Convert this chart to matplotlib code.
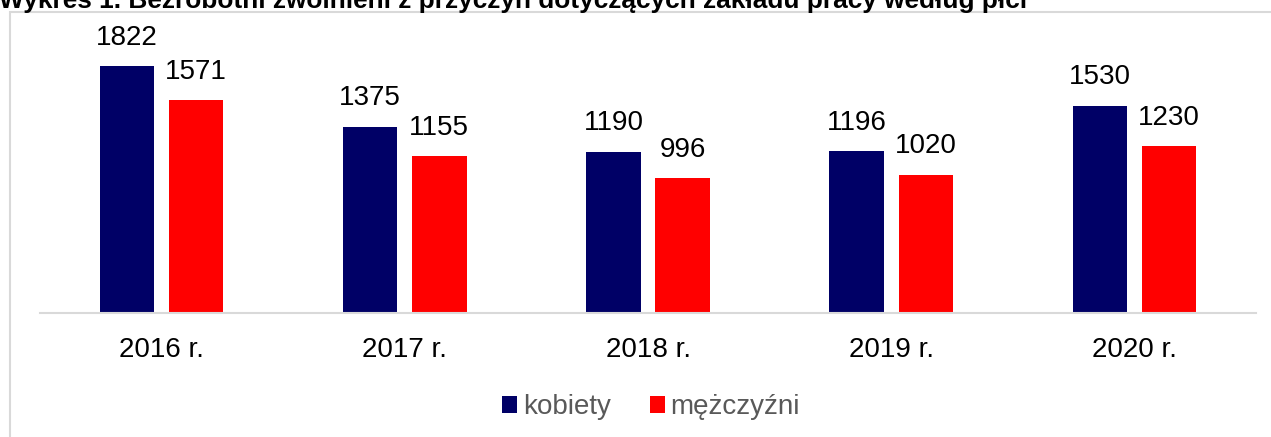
import matplotlib.pyplot as plt
import numpy as np
from matplotlib.patches import Rectangle

years = ["2016 r.", "2017 r.", "2018 r.", "2019 r.", "2020 r."]
kobiety = [1822, 1375, 1190, 1196, 1530]
mezczyzni = [1571, 1155, 996, 1020, 1230]

NAVY = "#000066"
RED = "#FF0000"

plt.rcParams["font.family"] = ["Liberation Sans", "DejaVu Sans"]

W, H = 1271, 437
fig = plt.figure(figsize=(W / 100, H / 100), dpi=100)

# light grey frame of the chart area (partly cut off)
fig.patches.append(Rectangle((10 / W, -0.1), 1.2, 1 - 12 / H + 0.1,
                             transform=fig.transFigure, fill=False,
                             edgecolor="#D9D9D9", linewidth=1.5))

# title, cut off at top
fig.text(-1 / W, 1 - 8 / H,
         "Wykres 1. Bezrobotni zwolnieni z przyczyn dotyczących zakładu pracy według płci",
         ha="left", va="baseline", fontsize=18.9, fontweight="bold", color="black")

ax_left, ax_right = 40, 1256
ax_top, ax_bottom = 20, 313
ax = fig.add_axes([ax_left / W, 1 - ax_bottom / H,
                   (ax_right - ax_left) / W, (ax_bottom - ax_top) / H])

x = np.arange(len(years))
bw = 0.2235
off = 0.142

b1 = ax.bar(x - off, kobiety, bw, color=NAVY, label="kobiety")
b2 = ax.bar(x + off, mezczyzni, bw, color=RED, label="mężczyźni")

for bars in (b1, b2):
    for rect in bars:
        ax.annotate(f"{int(rect.get_height())}",
                    (rect.get_x() + rect.get_width() / 2, rect.get_height()),
                    xytext=(0, 11), textcoords="offset points",
                    ha="center", va="bottom", fontsize=20, color="black")

ax.set_xlim(-0.5, 4.5)
ax.set_ylim(0, 293 / 0.1356)
ax.set_xticks(x)
ax.set_xticklabels(years, fontsize=20)
ax.tick_params(axis="x", length=0, pad=17)
ax.set_yticks([])
for s in ["top", "right", "left"]:
    ax.spines[s].set_visible(False)
ax.spines["bottom"].set_color("#D9D9D9")
ax.spines["bottom"].set_linewidth(1.5)
ax.patch.set_visible(False)

leg = fig.legend(handles=[b1, b2], loc="center", bbox_to_anchor=(651 / W, 1 - 407 / H),
                 ncol=2, frameon=False, fontsize=20, handlelength=0.55,
                 handleheight=0.55, handletextpad=0.2, columnspacing=1.4)
for t in leg.get_texts():
    t.set_color("#595959")

fig.savefig("out.png", dpi=100)
